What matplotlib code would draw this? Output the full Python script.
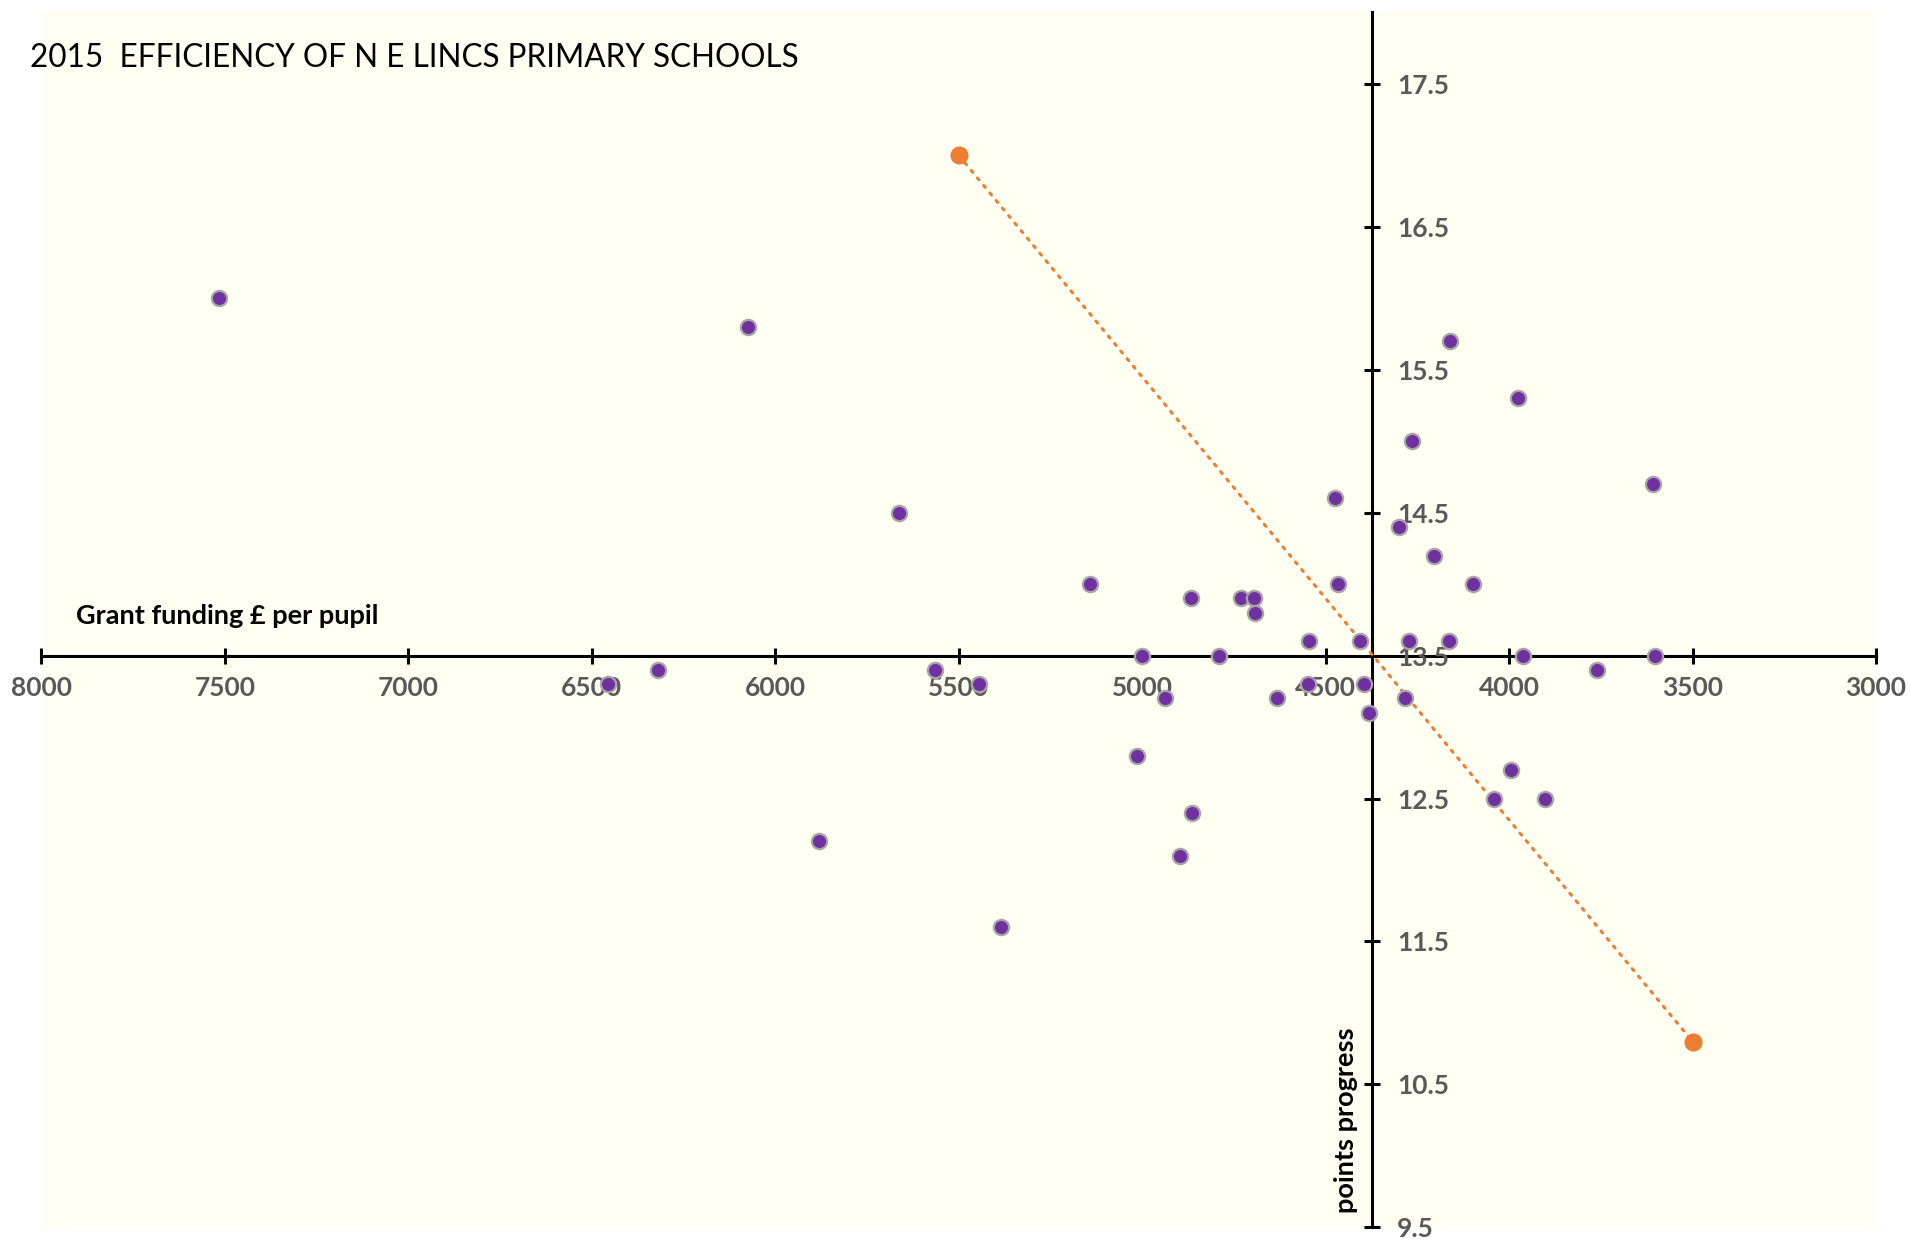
import matplotlib.pyplot as plt
from matplotlib.ticker import FixedLocator

# grant funding per pupil (£) and points progress, one entry per school
funding = [7515, 6074, 4162, 3976, 4265, 3608, 5663, 4474, 4301, 4205,
           5143, 4467, 4098, 4866, 4730, 4694, 4693, 4545, 4407, 4273,
           4165, 5000, 4790, 3961, 3601, 3760, 6320, 5566, 6456, 5444,
           4548, 4395, 4937, 4633, 4285, 4382, 5015, 3996, 4042, 3903,
           4863, 5882, 4896, 5384]
progress = [16.0, 15.8, 15.7, 15.3, 15.0, 14.7, 14.5, 14.6, 14.4, 14.2,
            14.0, 14.0, 14.0, 13.9, 13.9, 13.9, 13.8, 13.6, 13.6, 13.6,
            13.6, 13.5, 13.5, 13.5, 13.5, 13.4, 13.4, 13.4, 13.3, 13.3,
            13.3, 13.3, 13.2, 13.2, 13.2, 13.1, 12.8, 12.7, 12.5, 12.5,
            12.4, 12.2, 12.1, 11.6]

# the orange "efficiency" line
trend_x = [5500, 3500]
trend_y = [17.0, 10.8]

# where the axes cross
cross_x = 4373
cross_y = 13.5

x_ticks = [8000, 7500, 7000, 6500, 6000, 5500, 5000, 4500, 4000, 3500, 3000]
y_ticks = [9.5, 10.5, 11.5, 12.5, 13.5, 14.5, 15.5, 16.5, 17.5]

plt.rcParams['font.family'] = ['Lato', 'DejaVu Sans']
plt.rcParams['font.weight'] = 'bold'  # tick labels are bold

fig = plt.figure(figsize=(19.1, 12.41), dpi=100)
ax = fig.add_axes([0.0217, 0.011, 0.9605, 0.979])
ax.set_facecolor('#FFFFF2')

ax.plot(trend_x, trend_y, color='#ED7D31', linewidth=2.2,
        linestyle=(0, (0.8, 2.4)), dash_capstyle='round',
        marker='o', markersize=12, zorder=2)
ax.plot(funding, progress, linestyle='none', marker='o', markersize=11,
        markerfacecolor='#7030A0', markeredgecolor='#A6A6A6',
        markeredgewidth=1.6, zorder=3)

ax.set_xlim(8000, 3000)
ax.set_ylim(9.5, 18.0)

# axes cross in the middle of the data
ax.spines['left'].set_visible(False)
ax.spines['top'].set_visible(False)
ax.spines['right'].set_position(('data', cross_x))
ax.spines['bottom'].set_position(('data', cross_y))
for s in ['right', 'bottom']:
    ax.spines[s].set_linewidth(2.2)
    ax.spines[s].set_zorder(1)

ax.yaxis.tick_right()
ax.xaxis.set_major_locator(FixedLocator(x_ticks))
ax.yaxis.set_major_locator(FixedLocator(y_ticks))
ax.set_xticklabels([str(v) for v in x_ticks])
ax.set_yticklabels([f'{v:.1f}' for v in y_ticks])
ax.tick_params(axis='x', direction='inout', length=12, width=2.2,
               pad=9, labelsize=19, labelcolor='#595959')
ax.tick_params(axis='y', direction='inout', length=12, width=2.2,
               pad=12, labelsize=19, labelcolor='#595959')

fig.text(0.0157, 0.953, '2015  EFFICIENCY OF N E LINCS PRIMARY SCHOOLS',
         fontsize=22.7, fontweight='normal', color='black',
         ha='left', va='center')
fig.text(0.040, 0.5035, 'Grant funding £ per pupil',
         fontsize=19.5, color='black', ha='left', va='center')
fig.text(0.7047, 0.097, 'points progress', rotation=90, fontsize=19.5,
         color='black', ha='center', va='center')

fig.savefig('out.png', dpi=100)
